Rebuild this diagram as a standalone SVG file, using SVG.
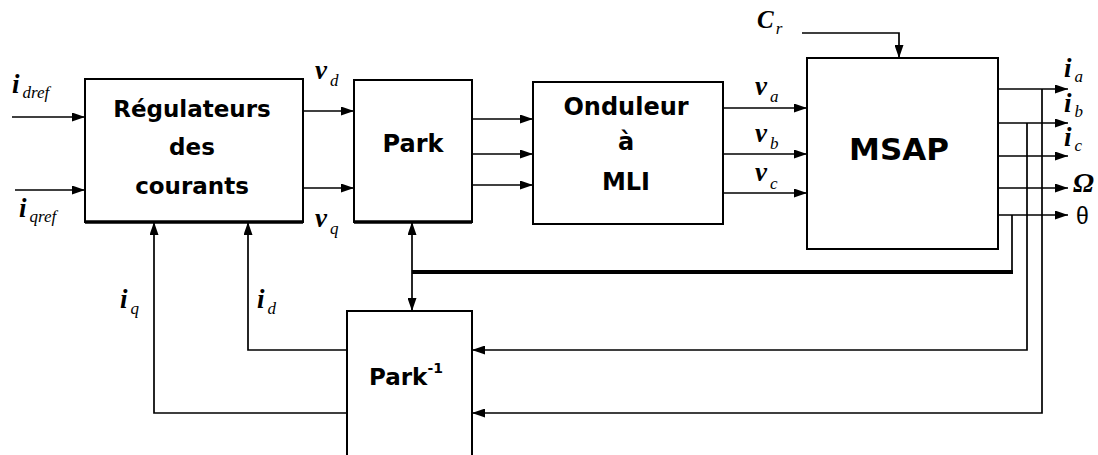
<svg xmlns="http://www.w3.org/2000/svg" width="1098" height="455" viewBox="0 0 1098 455">
<style>
.box{fill:#fff;stroke:#000;stroke-width:2}
.ln{fill:none;stroke:#000;stroke-width:1.7}
.thick{fill:none;stroke:#000;stroke-width:4}
.bt{font-family:"DejaVu Sans",sans-serif;font-weight:bold;font-size:23px;fill:#000;text-anchor:middle}
.m{font-family:"Liberation Serif",serif;font-style:italic;font-weight:bold;font-size:27px;fill:#000}
.s{font-size:17px;font-weight:normal}
</style>
<defs>
<marker id="ar" markerUnits="userSpaceOnUse" markerWidth="13" markerHeight="9" refX="13" refY="4.5" orient="auto">
<path d="M0,0 L13,4.5 L0,9 z" fill="#000"/>
</marker>
</defs>
<rect width="1098" height="455" fill="#fff"/>
<g id="connectors">
<path class="ln" d="M12,117 H85" marker-end="url(#ar)"/>
<path class="ln" d="M15,190 H85" marker-end="url(#ar)"/>
<path class="ln" d="M303,111 H354" marker-end="url(#ar)"/>
<path class="ln" d="M303,188 H354" marker-end="url(#ar)"/>
<path class="ln" d="M472,119 H533" marker-end="url(#ar)"/>
<path class="ln" d="M472,154 H533" marker-end="url(#ar)"/>
<path class="ln" d="M472,185 H533" marker-end="url(#ar)"/>
<path class="ln" d="M723,108 H807" marker-end="url(#ar)"/>
<path class="ln" d="M723,154 H807" marker-end="url(#ar)"/>
<path class="ln" d="M723,193 H807" marker-end="url(#ar)"/>
<path class="ln" d="M802,33 H899 V58" marker-end="url(#ar)"/>
<path class="ln" d="M998,89 H1068" marker-end="url(#ar)"/>
<path class="ln" d="M998,123 H1068" marker-end="url(#ar)"/>
<path class="ln" d="M998,156 H1068" marker-end="url(#ar)"/>
<path class="ln" d="M998,188 H1068" marker-end="url(#ar)"/>
<path class="ln" d="M998,215 H1068" marker-end="url(#ar)"/>
<path class="ln" d="M1042,89 V413 H472" marker-end="url(#ar)"/>
<path class="ln" d="M1027,123 V350 H472" marker-end="url(#ar)"/>
<path class="ln" d="M1012,215 V272"/>
<path class="thick" d="M1013,272 H412"/>
<path class="ln" d="M412,273 V222" marker-end="url(#ar)"/>
<path class="ln" d="M412,273 V311" marker-end="url(#ar)"/>
<path class="ln" d="M347,350 H248 V222" marker-end="url(#ar)"/>
<path class="ln" d="M347,413 H154 V222" marker-end="url(#ar)"/>
</g>
<g id="regulateurs">
<rect class="box" x="85" y="79" width="218" height="143"/>
<path d="M85,222 H303" stroke="#000" stroke-width="3.5"/>
<text class="bt" x="192" y="117">Régulateurs</text>
<text class="bt" x="192" y="155">des</text>
<text class="bt" x="192" y="194">courants</text>
</g>
<g id="park">
<rect class="box" x="354" y="80" width="118" height="142"/>
<path d="M354,222 H472" stroke="#000" stroke-width="3.5"/>
<text class="bt" x="413" y="152" style="font-size:24px">Park</text>
</g>
<g id="onduleur">
<rect class="box" x="533" y="82" width="190" height="142"/>
<text class="bt" x="626" y="115" style="font-size:24px">Onduleur</text>
<text class="bt" x="626" y="150" style="font-size:24px">à</text>
<text class="bt" x="626" y="190" style="font-size:24px">MLI</text>
</g>
<g id="msap">
<rect class="box" x="807" y="58" width="191" height="191"/>
<text class="bt" x="899" y="160" style="font-size:31px">MSAP</text>
</g>
<g id="park_inv">
<rect class="box" x="347" y="311" width="125" height="150"/>
<text class="bt" x="406" y="385">Park<tspan font-size="14" dy="-12">-1</tspan></text>
</g>
<g id="labels">
<text class="m" x="12" y="93">i<tspan class="s" dx="3" dy="5">dref</tspan></text>
<text class="m" x="19" y="217">i<tspan class="s" dx="3" dy="5">qref</tspan></text>
<text class="m" x="315" y="79">v<tspan class="s" dx="3" dy="7">d</tspan></text>
<text class="m" x="315" y="227">v<tspan class="s" dx="3" dy="7">q</tspan></text>
<text class="m" x="755" y="95">v<tspan class="s" dx="3" dy="7">a</tspan></text>
<text class="m" x="755" y="142">v<tspan class="s" dx="3" dy="7">b</tspan></text>
<text class="m" x="755" y="181">v<tspan class="s" dx="3" dy="8">c</tspan></text>
<text class="m" x="757" y="28" style="font-size:25px">C<tspan class="s" dx="2" dy="6">r</tspan></text>
<text class="m" x="1064" y="77">i<tspan class="s" dx="3" dy="5">a</tspan></text>
<text class="m" x="1064" y="112">i<tspan class="s" dx="3" dy="5">b</tspan></text>
<text class="m" x="1064" y="146">i<tspan class="s" dx="3" dy="5">c</tspan></text>
<text class="m" x="1073" y="192" style="font-size:28px">Ω</text>
<text x="1076" y="224" style="font-family:'Liberation Sans',sans-serif;font-size:23px;fill:#000">θ</text>
<text class="m" x="120" y="308">i<tspan class="s" dx="3" dy="6">q</tspan></text>
<text class="m" x="257" y="308">i<tspan class="s" dx="3" dy="6">d</tspan></text>
</g>
</svg>
